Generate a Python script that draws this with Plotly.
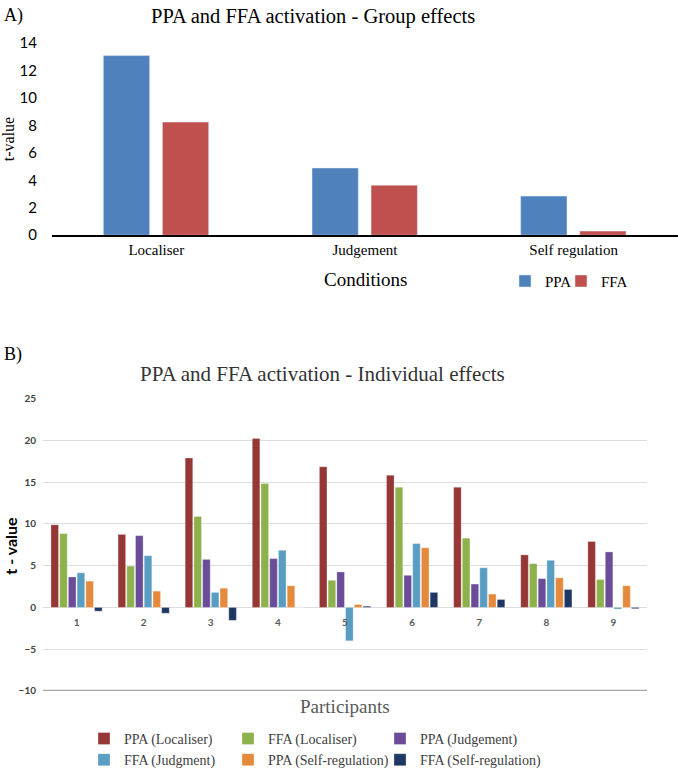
import plotly.graph_objects as go

# panel A - group effects
conditions = ["Localiser", "Judgement", "Self regulation"]
group_ppa = [13.1, 4.9, 2.85]
group_ffa = [8.25, 3.65, 0.3]

# panel B - individual effects
participants = ["1", "2", "3", "4", "5", "6", "7", "8", "9"]
ppa_loc = [9.9, 8.75, 17.9, 20.25, 16.85, 15.85, 14.4, 6.3, 7.9]
ffa_loc = [8.85, 4.95, 10.9, 14.85, 3.25, 14.4, 8.3, 5.25, 3.35]
ppa_judg = [3.65, 8.6, 5.75, 5.85, 4.25, 3.85, 2.8, 3.45, 6.65]
ffa_judg = [4.15, 6.2, 1.8, 6.85, -4.0, 7.65, 4.75, 5.65, -0.2]
ppa_self = [3.15, 1.95, 2.3, 2.6, 0.35, 7.15, 1.6, 3.55, 2.6]
ffa_self = [-0.45, -0.7, -1.55, 0, 0.15, 1.8, 0.95, 2.15, -0.15]

W, H = 678, 776
SERIF = "Liberation Serif"
SANS = "Lato"

def px(x):
    return x / W

def py(y):
    return 1 - y / H

fig = go.Figure()

# top chart (one legend box per entry so they sit close together)
fig.add_trace(go.Bar(x=conditions, y=group_ppa, name="PPA", marker_color="#4F81BD",
                     width=0.222, offset=-0.254, xaxis="x", yaxis="y", legend="legend"))
fig.add_trace(go.Bar(x=conditions, y=group_ffa, name="FFA", marker_color="#C0504D",
                     width=0.222, offset=0.029, xaxis="x", yaxis="y", legend="legend5"))

# bottom chart, legend split in three columns like the original
series = [
    ("PPA (Localiser)", ppa_loc, "#953735", "legend2"),
    ("FFA (Localiser)", ffa_loc, "#8DB24C", "legend3"),
    ("PPA (Judgement)", ppa_judg, "#6A4C98", "legend4"),
    ("FFA (Judgment)", ffa_judg, "#5A9DC2", "legend2"),
    ("PPA (Self-regulation)", ppa_self, "#E58A3C", "legend3"),
    ("FFA (Self-regulation)", ffa_self, "#1F3763", "legend4"),
]
for name, vals, col, leg in series:
    fig.add_trace(go.Bar(x=participants, y=vals, name=name, marker_color=col,
                         marker_line=dict(color="rgba(255,255,255,0.6)", width=0.5),
                         xaxis="x2", yaxis="y2", legend=leg))

col_leg = dict(orientation="v", xanchor="left", yanchor="top", itemwidth=30,
               bgcolor="rgba(0,0,0,0)", font=dict(family=SERIF, size=14, color="#404040"))
top_leg = dict(orientation="v", xanchor="left", yanchor="middle", itemwidth=30,
               bgcolor="rgba(0,0,0,0)", font=dict(family=SERIF, size=15, color="black"))

fig.update_layout(
    width=W, height=H,
    margin=dict(l=0, r=0, t=0, b=0),
    plot_bgcolor="white", paper_bgcolor="white",
    barmode="group", bargap=0.22, bargroupgap=0.13,
    xaxis=dict(domain=[px(52), 1.0], anchor="y", type="category",
               showline=True, linecolor="black", linewidth=1.5, ticks="",
               showgrid=False, tickfont=dict(family=SERIF, size=15, color="black")),
    yaxis=dict(domain=[py(233), py(30)], anchor="x", range=[0, 14.5],
               tickvals=[0, 2, 4, 6, 8, 10, 12, 14], showgrid=False, zeroline=False,
               ticks="", ticklabelstandoff=14,
               tickfont=dict(family=SANS, size=15, color="black")),
    xaxis2=dict(domain=[px(43), px(647)], anchor="free", position=py(612.3), type="category",
                showline=False, ticks="", showgrid=False, ticklabelstandoff=8,
                tickfont=dict(family=SANS, size=10, color="#595959", weight="bold")),
    yaxis2=dict(domain=[py(698.3), py(400)], anchor="x2", range=[-10, 25],
                tickvals=[-10, -5, 0, 5, 10, 15, 20, 25], showgrid=True,
                gridcolor="#DDDDDD", gridwidth=1, zeroline=False, ticks="",
                ticklabelstandoff=6,
                tickfont=dict(family=SANS, size=10, color="#404040", weight="bold")),
    legend=dict(top_leg, x=px(505), y=py(280)),
    legend5=dict(top_leg, x=px(561), y=py(280)),
    legend2=dict(col_leg, x=px(84), y=py(731)),
    legend3=dict(col_leg, x=px(228), y=py(731)),
    legend4=dict(col_leg, x=px(380), y=py(731)),
    showlegend=True,
)

# -10 baseline of the bottom chart
fig.add_shape(type="line", xref="paper", yref="y2", x0=px(43), x1=px(647), y0=-10, y1=-10,
              line=dict(color="#A6A6A6", width=2.5))

notes = [
    ("A)", 2, 9, SERIF, 18, "black", "left"),
    ("PPA and FFA activation - Group effects", 313, 10, SERIF, 20.5, "black", "center"),
    ("Conditions", 365, 278, SERIF, 19, "black", "center"),
    ("B)", 2, 355, SERIF, 18, "black", "left"),
    ("PPA and FFA activation - Individual effects", 322, 375, SERIF, 21, "#333333", "center"),
    ("Participants", 345, 714, SERIF, 19, "#595959", "center"),
]
for txt, x, y, fam, size, col, anc in notes:
    fig.add_annotation(text=txt, x=px(x), y=py(y), xref="paper", yref="paper",
                       showarrow=False, xanchor=anc, yanchor="middle",
                       font=dict(family=fam, size=size, color=col))

fig.add_annotation(text="t-value", x=px(8), y=py(135), xref="paper", yref="paper",
                   showarrow=False, textangle=-90, xanchor="center", yanchor="middle",
                   font=dict(family=SERIF, size=16, color="black"))
fig.add_annotation(text="<b>t - value</b>", x=px(11), y=py(550), xref="paper", yref="paper",
                   showarrow=False, textangle=-90, xanchor="center", yanchor="middle",
                   font=dict(family=SANS, size=16, color="black"))

fig.write_html("out.html", config={"displayModeBar": False},
               post_script="document.body.style.margin='0';")
